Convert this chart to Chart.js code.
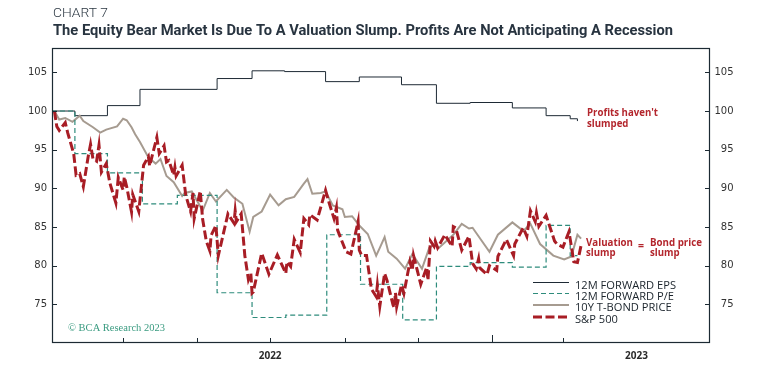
<!DOCTYPE html>
<html><head><meta charset="utf-8">
<script src="https://cdn.jsdelivr.net/npm/chart.js@4.4.0/dist/chart.umd.min.js"></script>
<style>html,body{margin:0;padding:0;background:#fff;}canvas{display:block}</style>
</head><body>
<canvas id="c" width="767" height="375"></canvas>
<script>
// x values are days since 1 Jan 2022
const xTickDays = [59, 120, 181, 243, 304, 365, 424];
const xLabelDays = [181, 485];
const xLabelText = ['2022', '2023'];
const yTickValues = [75, 80, 85, 90, 95, 100, 105];

const epsDays = [0, 19, 46, 73, 137, 166, 193, 227, 255, 290, 319, 347, 382, 410, 430, 436];
const epsValues = [100, 99.4, 100.7, 102.8, 104.2, 105.2, 105.1, 103.8, 104.4, 103.4, 101.0, 101.1, 100.4, 99.4, 99.0, 98.7];

const peDays = [0, 19, 46, 75, 104, 137, 166, 194, 228, 256, 291, 319, 347, 382, 410, 430, 436];
const peValues = [100, 94.5, 92.0, 88.0, 89.1, 76.5, 73.3, 73.6, 84.0, 77.6, 73.0, 79.9, 80.4, 79.8, 85.2, 81.3, 81.3];

const bondDays = [2,6,11,17,23,26,34,40,45,54,59,62,66,69,73,80,86,90,95,101,108,110,116,125,131,136,145,151,158,164,167,174,181,188,194,201,209,212,216,223,227,233,241,243,249,255,262,269,272,276,279,286,293,299,307,313,318,321,333,340,346,349,363,370,382,391,397,405,416,425,431,436,439];
const bondValues = [100,98.9,99.1,98.6,99.4,98.7,97.9,97.2,97.6,98.0,99.0,98.8,97.9,97.0,96.0,94.0,93.2,93.8,91.6,90.8,89.0,89.4,89.6,87.1,89.4,88.3,89.8,88.8,88.0,84.4,86.3,87.0,89.2,87.8,88.6,88.9,90.6,91.2,89.3,89.4,89.6,87.8,87.3,86.3,86.4,85.2,84.1,81.3,82.3,83.7,81.8,80.9,79.6,81.5,79.6,82.3,82.8,82.3,84.0,85.4,84.8,84.9,81.8,84.0,85.6,84.5,85.4,82.8,81.3,80.8,81.2,84.0,83.5];

const spxDays = [2,4,6,11,13,18,20,23,26,30,32,34,37,39,41,45,48,53,55,59,60,62,66,67,72,76,80,81,87,89,93,95,97,101,102,103,108,111,115,117,118,123,125,128,131,132,136,138,146,151,152,153,157,160,163,165,166,167,174,180,187,194,195,198,201,206,209,213,214,220,227,230,234,236,237,244,248,254,255,257,261,265,269,270,272,276,278,283,284,285,286,290,292,297,299,300,306,311,312,314,317,318,320,326,332,333,335,340,346,349,352,354,355,361,363,369,370,377,383,384,391,394,397,401,402,404,410,417,419,424,429,433,436,439];
const spxValues = [100,98.0,97.5,98.5,97.2,94.5,91.7,91.9,90.2,94.1,95.7,93.8,93.5,95.6,92.1,93.2,90.7,88.1,91.4,89.8,91.5,90.2,86.95,89.2,87.0,93.0,94.1,92.9,96.6,94.5,95.5,93.4,93.6,91.7,92.7,91.6,93.0,89.1,87.0,89.4,86.1,89.65,86.0,83.2,81.9,83.9,85.2,81.3,86.7,85.5,87.1,85.7,86.7,81.3,78.2,79.0,76.45,76.6,81.6,78.9,81.4,79.0,80.5,79.9,83.4,81.7,86.1,85.3,86.6,85.9,89.75,88.1,86.1,87.5,84.6,81.8,81.5,85.7,82.0,81.3,81.3,77.0,76.0,77.5,74.75,79.0,78.1,74.9,74.57,76.5,74.7,77.5,76.4,80.5,79.4,81.3,77.6,79.8,78.1,83.2,82.5,83.2,82.3,84.0,82.5,85.06,84.9,82.0,83.8,80.3,79.6,80.9,79.7,78.87,80.0,79.4,81.2,83.4,81.3,82.8,84.9,83.8,87.1,85.7,86.8,85.1,86.5,83.2,82.8,82.4,84.4,80.5,80.4,82.6];

const seriesNames = ['12M FORWARD EPS', '12M FORWARD P/E', '10Y T-BOND PRICE', 'S&P 500'];

const C_EPS = '#1e2a35', C_PE = '#2e8c7c', C_BOND = '#a69b90', C_SPX = '#a81d25', C_RED = '#b3262d';

function pts(d, v) { return d.map((x, i) => ({ x: x, y: v[i] })); }

function fitText(ctx, str, x, y, font, color, width) {
  ctx.font = font;
  const w = ctx.measureText(str).width;
  const s = width ? width / w : 1;
  ctx.save();
  ctx.translate(x, y);
  ctx.scale(s, 1);
  ctx.fillStyle = color;
  ctx.textAlign = 'left';
  ctx.textBaseline = 'alphabetic';
  ctx.fillText(str, 0, 0);
  ctx.restore();
  return s;
}

const deco = {
  id: 'deco',
  afterDraw(chart) {
    const { ctx, chartArea: a, scales } = chart;
    const xs = scales.x, ys = scales.y;
    ctx.save();
    // frame
    ctx.strokeStyle = '#1c2a33';
    ctx.lineWidth = 1.2;
    ctx.strokeRect(a.left + 0.5, a.top + 0.5, a.right - a.left - 1, a.bottom - a.top - 1);
    // inward y ticks
    ctx.lineWidth = 1;
    yTickValues.forEach(v => {
      const y = Math.round(ys.getPixelForValue(v)) + 0.5;
      ctx.beginPath(); ctx.moveTo(a.left, y); ctx.lineTo(a.left + 5, y); ctx.stroke();
      ctx.beginPath(); ctx.moveTo(a.right - 5, y); ctx.lineTo(a.right, y); ctx.stroke();
    });
    // inward x ticks
    xTickDays.forEach(d => {
      const x = Math.round(xs.getPixelForValue(d)) + 0.5;
      const h = d === 365 ? 8 : 5;
      ctx.beginPath(); ctx.moveTo(x, a.bottom); ctx.lineTo(x, a.bottom - h); ctx.stroke();
    });
    // titles
    fitText(ctx, 'CHART 7', 53, 16.5, '300 13px Roboto', '#2b3742', 55);
    fitText(ctx, 'The Equity Bear Market Is Due To A Valuation Slump. Profits Are Not Anticipating A Recession', 53, 35, 'bold 15.5px Roboto', '#283440', 620);
    // annotations
    const af = 'bold 10.5px "Open Sans"';
    const s1 = fitText(ctx, "Profits haven't", 587, 116, af, C_RED, 71);
    ctx.font = af;
    fitText(ctx, 'slumped', 587, 126.5, af, C_RED, ctx.measureText('slumped').width * s1);
    fitText(ctx, 'Valuation', 586, 245.5, af, C_RED, 47);
    ctx.font = af;
    fitText(ctx, 'slump', 586, 255.5, af, C_RED, ctx.measureText('slump').width * s1);
    fitText(ctx, '=', 638, 249, af, C_RED, 0);
    fitText(ctx, 'Bond price', 650, 245.5, af, C_RED, 52);
    ctx.font = af;
    fitText(ctx, 'slump', 650, 255.5, af, C_RED, ctx.measureText('slump').width * s1);
    // copyright
    fitText(ctx, '\u00A9 BCA Research 2023', 68, 330.5, '10.5px "Liberation Serif"', '#3a9b80', 97);
    // legend
    const styles = [
      { c: C_EPS, w: 1, d: [] },
      { c: C_PE, w: 1.2, d: [5, 3] },
      { c: C_BOND, w: 2, d: [] },
      { c: C_SPX, w: 3, d: [9, 3.5] }
    ];
    const rowY = [285, 296, 307.5, 319.5];
    const lf = '500 10px "Open Sans"';
    ctx.font = lf;
    const ls = 101 / ctx.measureText(seriesNames[0]).width;
    seriesNames.forEach((n, i) => {
      const st = styles[i];
      ctx.save();
      ctx.strokeStyle = st.c; ctx.lineWidth = st.w; ctx.setLineDash(st.d);
      ctx.beginPath(); ctx.moveTo(533, rowY[i] - 2.5); ctx.lineTo(569, rowY[i] - 2.5); ctx.stroke();
      ctx.restore();
      ctx.font = lf;
      const w = ctx.measureText(n).width * ls;
      fitText(ctx, n, 575, rowY[i] + 3.5, lf, '#1a232b', w);
    });
    ctx.restore();
  }
};

new Chart(document.getElementById('c'), {
  type: 'line',
  data: {
    datasets: [
      { label: seriesNames[3], data: pts(spxDays, spxValues), borderColor: C_SPX, borderWidth: 3, borderDash: [9, 3.5], pointRadius: 0, tension: 0, yAxisID: 'y' },
      { label: seriesNames[1], data: pts(peDays, peValues), borderColor: C_PE, borderWidth: 1.2, borderDash: [5, 3], pointRadius: 0, stepped: true, yAxisID: 'y' },
      { label: seriesNames[2], data: pts(bondDays, bondValues), borderColor: C_BOND, borderWidth: 2, pointRadius: 0, tension: 0, yAxisID: 'y' },
      { label: seriesNames[0], data: pts(epsDays, epsValues), borderColor: C_EPS, borderWidth: 1, pointRadius: 0, stepped: true, yAxisID: 'y' }
    ]
  },
  options: {
    responsive: false,
    animation: false,
    devicePixelRatio: 1,
    layout: { padding: { top: 48, right: 33.5, bottom: 0, left: 0 }, autoPadding: false },
    plugins: { legend: { display: false }, tooltip: { enabled: false }, title: { display: false } },
    scales: {
      x: {
        type: 'linear', min: 0, max: 546,
        grid: { display: false, drawTicks: false }, border: { display: false },
        afterBuildTicks: s => { s.ticks = xLabelDays.map(v => ({ value: v })); },
        afterFit: s => { s.height = 32; },
        ticks: { autoSkip: false, maxRotation: 0, padding: 7, color: '#2a2a2a',
          font: { family: 'Open Sans', size: 10, weight: 'bold' },
          callback: v => { const i = xLabelDays.indexOf(v); return i >= 0 ? xLabelText[i] : ''; } }
      },
      y: {
        position: 'left', min: 70, max: 108.15,
        grid: { display: false, drawTicks: false }, border: { display: false },
        afterBuildTicks: s => { s.ticks = yTickValues.map(v => ({ value: v })); },
        afterFit: s => { s.width = 52; },
        ticks: { padding: 5, color: '#333', font: { family: 'DejaVu Sans', size: 10 } }
      },
      y2: {
        position: 'right', min: 70, max: 108.15,
        grid: { display: false, drawTicks: false }, border: { display: false },
        afterBuildTicks: s => { s.ticks = yTickValues.map(v => ({ value: v })); },
        afterFit: s => { s.width = 23.5; },
        ticks: { padding: 5, crossAlign: 'far', color: '#333', font: { family: 'DejaVu Sans', size: 10 } }
      }
    }
  },
  plugins: [deco]
});
</script>
</body></html>
